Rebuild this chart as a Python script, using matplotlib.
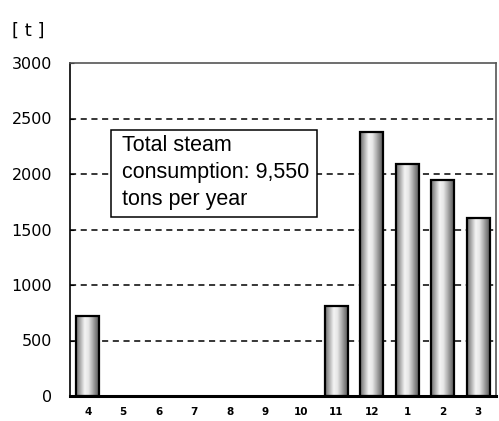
import numpy as np
import matplotlib.pyplot as plt
from matplotlib.colors import LinearSegmentedColormap
from matplotlib.patches import Rectangle

months = ["4", "5", "6", "7", "8", "9", "10", "11", "12", "1", "2", "3"]
steam_t = [720, 0, 0, 0, 0, 0, 0, 810, 2380, 2090, 1950, 1600]
y_ticks = [0, 500, 1000, 1500, 2000, 2500, 3000]
note = "Total steam\nconsumption: 9,550\ntons per year"

fig = plt.figure(figsize=(4.99, 4.21), dpi=100)
ax = fig.add_axes([70 / 499, 1 - 396 / 421, 426 / 499, 333 / 421])

x = np.arange(len(months))
width = 0.64
ax.set_xlim(-0.5, len(months) - 0.5)
ax.set_ylim(0, 3000)

# cylinder-like horizontal shading for each bar
shade = LinearSegmentedColormap.from_list(
    "shade", [(0.0, "#6e6e6e"), (0.38, "#f4f4f4"), (0.55, "#e6e6e6"), (1.0, "#5a5a5a")])
grad = np.linspace(0, 1, 64).reshape(1, -1)
for xi, v in zip(x, steam_t):
    if v <= 0:
        continue
    left = xi - width / 2
    im = ax.imshow(grad, cmap=shade, aspect="auto", extent=(left, left + width, 0, v),
                   zorder=2, interpolation="bilinear")
    rect = Rectangle((left, 0), width, v, fill=False, edgecolor="black", lw=1.6, zorder=3)
    ax.add_patch(rect)
    im.set_clip_path(rect)

for yv in y_ticks[1:-1]:
    ax.axhline(yv, color="black", lw=1.1, ls=(0, (4, 3)), zorder=1)

ax.set_xticks(x)
ax.set_xticklabels(months, fontsize=7.5, fontweight="bold", family="DejaVu Sans")
ax.set_yticks(y_ticks)
ax.set_yticklabels([str(v) for v in y_ticks], fontsize=11.5, family="DejaVu Sans")
ax.tick_params(axis="x", length=0, pad=8)
ax.tick_params(axis="y", direction="in", length=3, pad=13)

for side in ["top", "right"]:
    ax.spines[side].set_color("#555555")
    ax.spines[side].set_linewidth(1.2)
ax.spines["left"].set_linewidth(1.2)
ax.spines["bottom"].set_linewidth(2.2)

# annotation box with the yearly total
ax.add_patch(Rectangle((0.655, 1612), 6.458 - 0.655, 2396 - 1612, fc="white",
                       ec="black", lw=1.1, zorder=4))
ax.text(0.965, 2010, note, fontsize=15.5, family="Liberation Sans", va="center", ha="left",
        zorder=5, linespacing=1.38)

fig.text(12 / 499, 1 - 31 / 421, "[ t ]", fontsize=13, family="DejaVu Sans",
         va="center", ha="left")

fig.savefig("out.png", dpi=100)
